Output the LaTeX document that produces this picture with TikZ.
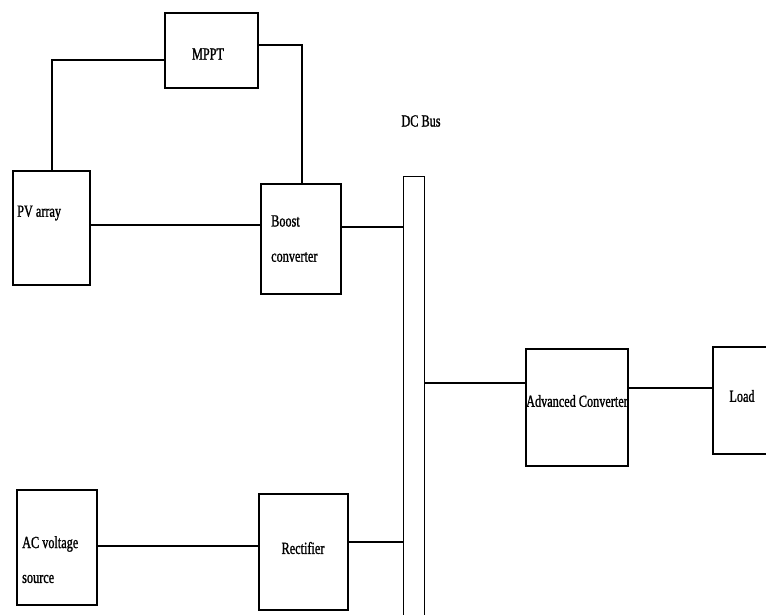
\documentclass[tikz,border=0pt]{standalone}
\usepackage{fontspec}
\setmainfont[FakeStretch=0.72,FakeBold=1.2]{Liberation Serif}
\begin{document}
\begin{tikzpicture}[x=1pt,y=-1pt,
  blk/.style={draw, line width=1.1pt, rectangle, inner sep=0pt, outer sep=0pt},
  lbl/.style={inner sep=0pt, font=\fontsize{17}{19}\selectfont},
  wire/.style={line width=1.4pt}]
\clip (0,0) rectangle (766,615);
\fill[white] (0,0) rectangle (766,615);
% boxes
\node[blk, minimum width=93pt, minimum height=75pt] (mppt) at (211.5,50.5) {};
\node[blk, minimum width=77pt, minimum height=114pt] (pv) at (51.5,228) {};
\node[blk, minimum width=80pt, minimum height=110pt] (boost) at (301,239) {};
\node[blk, minimum width=80pt, minimum height=115pt] (ac) at (57,547.5) {};
\node[blk, minimum width=89pt, minimum height=116pt] (rect) at (303.5,552) {};
\node[blk, minimum width=102pt, minimum height=117pt] (adv) at (577,407.5) {};
\node[blk, minimum width=62pt, minimum height=107pt] (load) at (744,400.5) {};
\node[blk, line width=0.9pt, minimum width=21pt, minimum height=449pt] (bus) at (413.5,400.5) {};
% labels
\node[lbl] (tmppt) at (208,54) {MPPT};
\node[lbl, anchor=west] (tpv) at (17,213) {PV array};
\node[lbl, anchor=west] (tboost1) at (271,221) {Boost};
\node[lbl, anchor=west] (tboost2) at (271,257) {converter};
\node[lbl, anchor=west] (tac1) at (22,544) {AC voltage};
\node[lbl, anchor=west] (tac2) at (22,579) {source};
\node[lbl] (trect) at (303,548) {Rectifier};
\node[lbl] (tadv) at (577,401) {Advanced Converter};
\node[lbl] (tload) at (742,396) {Load};
\node[lbl] (tbus) at (421,121) {DC Bus};
% connectors
\draw[wire] (mppt.west |- 0,60) -- (52,60) -- (pv.north -| 52,0);
\draw[wire] (mppt.east |- 0,45) -- (302,45) -- (boost.north -| 302,0);
\draw[wire] (pv.east |- 0,225) -- (boost.west |- 0,225);
\draw[wire] (boost.east |- 0,227) -- (bus.west |- 0,227);
\draw[wire] (ac.east |- 0,546) -- (rect.west |- 0,546);
\draw[wire] (rect.east |- 0,542) -- (bus.west |- 0,542);
\draw[wire] (bus.east |- 0,383) -- (adv.west |- 0,383);
\draw[wire] (adv.east |- 0,388) -- (load.west |- 0,388);
\end{tikzpicture}
\end{document}
